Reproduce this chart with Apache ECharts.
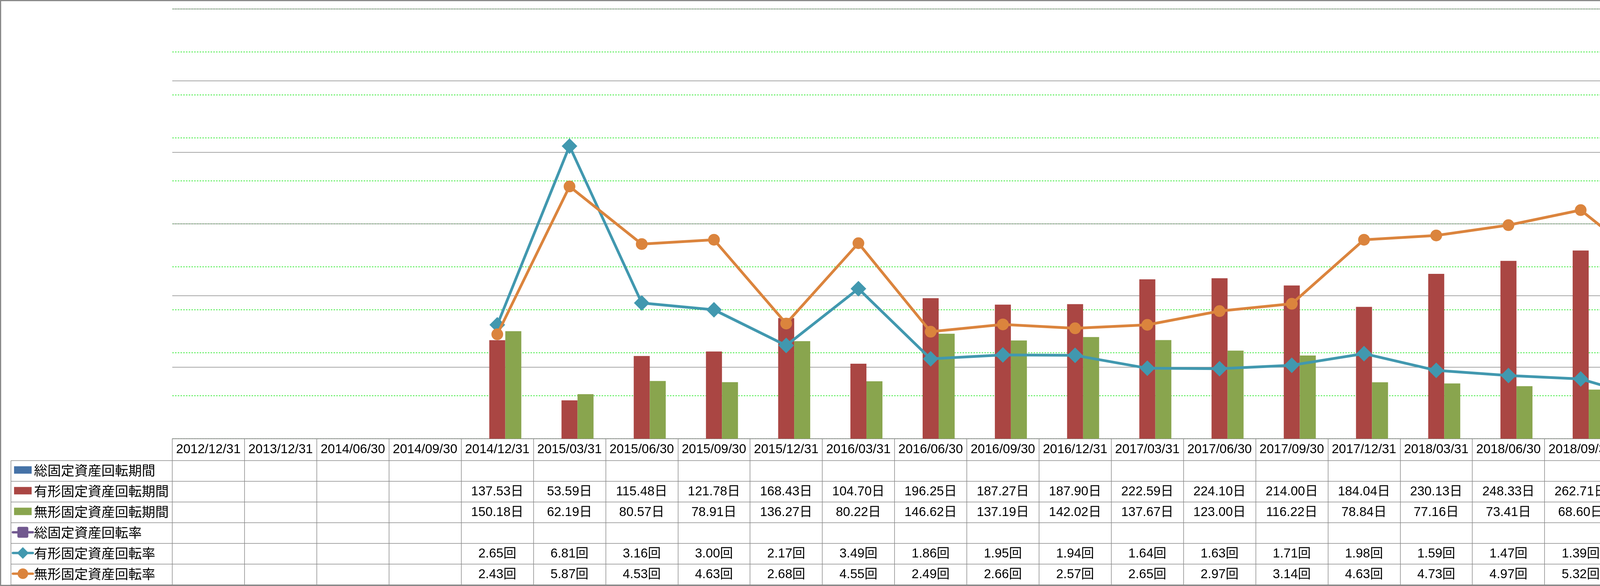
<!DOCTYPE html>
<html>
<head>
<meta charset="utf-8">
<script src="https://cdn.jsdelivr.net/npm/echarts@6/dist/echarts.min.js"></script>
<style>
html,body{margin:0;padding:0;background:#ffffff;}
#chart{width:6407px;height:1500px;}
</style>
</head>
<body>
<div id="chart"></div>
<script>
// ---------------- data ----------------
const categories = ['2012/12/31','2013/12/31','2014/06/30','2014/09/30','2014/12/31','2015/03/31','2015/06/30','2015/09/30','2015/12/31','2016/03/31','2016/06/30','2016/09/30','2016/12/31','2017/03/31','2017/06/30','2017/09/30','2017/12/31','2018/03/31','2018/06/30','2018/09/30','2018/12/31','2019/03/31','2019/06/30','2019/09/30','2019/12/31','2020/03/31','2020/06/30','2020/09/30','2020/12/31','2021/03/31'];

const seriesNames = ['総固定資産回転期間','有形固定資産回転期間','無形固定資産回転期間','総固定資産回転率','有形固定資産回転率','無形固定資産回転率'];

const totalPeriod = [null,null,null,null,null,null,null,null,null,null,null,null,null,null,null,null,null,null,null,null,null,null,null,null,null,null,null,null,null,null];
const tangiblePeriod = [null,null,null,null,137.53,53.59,115.48,121.78,168.43,104.70,196.25,187.27,187.90,222.59,224.10,214.00,184.04,230.13,248.33,262.71,405.23,474.40,529.85,569.80,524.69,553.06,533.76,429.91,409.27,314.32];
const intangiblePeriod = [null,null,null,null,150.18,62.19,80.57,78.91,136.27,80.22,146.62,137.19,142.02,137.67,123.00,116.22,78.84,77.16,73.41,68.60,91.77,94.19,96.55,90.51,80.41,78.24,72.62,60.12,52.67,42.26];
const totalRate = [null,null,null,null,null,null,null,null,null,null,null,null,null,null,null,null,null,null,null,null,null,null,null,null,null,null,null,null,null,null];
const tangibleRate = [null,null,null,null,2.65,6.81,3.16,3.00,2.17,3.49,1.86,1.95,1.94,1.64,1.63,1.71,1.98,1.59,1.47,1.39,0.90,0.77,0.69,0.64,0.70,0.66,0.68,0.85,0.89,1.16];
const intangibleRate = [null,null,null,null,2.43,5.87,4.53,4.63,2.68,4.55,2.49,2.66,2.57,2.65,2.97,3.14,4.63,4.73,4.97,5.32,3.98,3.88,3.78,4.03,4.54,4.67,5.03,6.07,6.93,8.64];

const dayTicks = [0,100,200,300,400,500,600];
const rateTicks = [0,1,2,3,4,5,6,7,8,9,10];

// ---------------- style / layout ----------------
const W = 6407, H = 1500;
const PL = 441, PR = 5988, PT = 23, PB = 1123;
const HEADER_H = 56, ROW_H = 53;
const LEG_COL_X = 28;
const GRAY = '#8a8a8a';
const GREEN = '#11e611';
const COLORS = ['#4572A7','#AA4643','#89A54E','#71588F','#4198AF','#DB843D'];
const TABLE_FONT = "'Liberation Sans','Noto Sans CJK JP',sans-serif";
const AXIS_FONT = "'DejaVu Sans','Noto Sans CJK JP',sans-serif";

const fmtDay = v => (v == null ? '' : v.toFixed(2) + '日');
const fmtRate = v => (v == null ? '' : v.toFixed(2) + '回');
const rowLabels = [
  totalPeriod.map(fmtDay), tangiblePeriod.map(fmtDay), intangiblePeriod.map(fmtDay),
  totalRate.map(fmtRate), tangibleRate.map(fmtRate), intangibleRate.map(fmtRate)
];
const rowTop = i => PB + HEADER_H + i * ROW_H;

// ---------------- axes (data table rows are extra category axes) ----------------
const baseX = {
  type: 'category', data: categories, gridIndex: 0, position: 'bottom', boundaryGap: true,
  axisLine: { show: true, onZero: false, lineStyle: { color: GRAY, width: 1.5 } },
  splitLine: { show: false }
};
const xAxes = [Object.assign({}, baseX, {
  offset: 0,
  axisTick: { show: true, interval: 0, length: HEADER_H, lineStyle: { color: GRAY, width: 1.5 } },
  axisLabel: { interval: 0, margin: HEADER_H / 2, verticalAlign: 'middle', fontFamily: TABLE_FONT, fontSize: 33, color: '#000' }
})];
rowLabels.forEach((labels, i) => {
  xAxes.push(Object.assign({}, baseX, {
    offset: HEADER_H + i * ROW_H,
    axisTick: { show: true, interval: 0, length: ROW_H, lineStyle: { color: GRAY, width: 1.5 } },
    axisLabel: { interval: 0, margin: ROW_H / 2, verticalAlign: 'middle', fontFamily: TABLE_FONT, fontSize: 33, color: '#000',
      formatter: (v, idx) => labels[idx] }
  }));
});

const yAxes = [
  {
    type: 'value', position: 'right', offset: 168,
    min: rateTicks[0], max: rateTicks[rateTicks.length - 1], interval: rateTicks[1] - rateTicks[0],
    axisLine: { show: true, onZero: false, lineStyle: { color: GREEN, width: 1.5, type: [4, 3] } },
    axisTick: { show: true, length: 12, lineStyle: { color: GREEN, width: 1.5, type: [4, 3] } },
    axisLabel: { margin: 33, formatter: v => v.toFixed(2) + '回', fontFamily: AXIS_FONT, fontSize: 29, color: '#000' },
    splitLine: { show: true, lineStyle: { color: GREEN, width: 1.5, type: [4, 3] } }
  },
  {
    type: 'value', position: 'right', offset: 0,
    min: dayTicks[0], max: dayTicks[dayTicks.length - 1], interval: dayTicks[1] - dayTicks[0],
    axisLine: { show: true, onZero: false, lineStyle: { color: GRAY, width: 1.5 } },
    axisTick: { show: false },
    axisLabel: { margin: 32, formatter: v => v.toFixed(2) + '日', fontFamily: AXIS_FONT, fontSize: 29, color: '#000' },
    splitLine: { show: true, lineStyle: { color: GRAY, width: 1.5 } }
  }
];

// ---------------- series ----------------
const barSeries = [totalPeriod, tangiblePeriod, intangiblePeriod].map((d, i) => ({
  name: seriesNames[i], type: 'bar', xAxisIndex: 0, yAxisIndex: 1, data: d,
  barWidth: 41, barGap: '0%', itemStyle: { color: COLORS[i] }, z: 2
}));
const lineSymbols = ['rect', 'diamond', 'circle'];
const lineSizes = [28, 40, 30];
const lineSeries = [totalRate, tangibleRate, intangibleRate].map((d, i) => ({
  name: seriesNames[i + 3], type: 'line', xAxisIndex: 0, yAxisIndex: 0, data: d,
  symbol: lineSymbols[i], symbolSize: lineSizes[i], showSymbol: true, showAllSymbol: true,
  lineStyle: { width: 7, color: COLORS[i + 3] }, itemStyle: { color: COLORS[i + 3] }, z: 3 + i
}));

// ---------------- table legend column & right legend ----------------
const graphics = [];
for (let i = 0; i <= 6; i++) {
  const y = rowTop(i);
  graphics.push({ type: 'line', silent: true, shape: { x1: LEG_COL_X, y1: y, x2: (i === 6 ? PR : PL), y2: y },
    style: { stroke: GRAY, lineWidth: 1.5 } });
}
graphics.push({ type: 'line', silent: true, shape: { x1: LEG_COL_X, y1: rowTop(0), x2: LEG_COL_X, y2: rowTop(6) },
  style: { stroke: GRAY, lineWidth: 1.5 } });

function legendItem(x, cy, i) {
  const c = COLORS[i];
  if (i < 3) {
    graphics.push({ type: 'rect', silent: true, shape: { x: x, y: cy - 10, width: 45, height: 19 }, style: { fill: c } });
  } else {
    graphics.push({ type: 'line', silent: true, shape: { x1: x - 3, y1: cy, x2: x + 48, y2: cy },
      style: { stroke: c, lineWidth: 6, lineCap: 'round' } });
    const mx = x + 22.5;
    if (i === 3) {
      graphics.push({ type: 'rect', silent: true, shape: { x: mx - 14, y: cy - 14, width: 28, height: 28, r: 4 }, style: { fill: c } });
    } else if (i === 4) {
      graphics.push({ type: 'polygon', silent: true, shape: { points: [[mx, cy - 15], [mx + 15, cy], [mx, cy + 15], [mx - 15, cy]] }, style: { fill: c } });
    } else {
      graphics.push({ type: 'circle', silent: true, shape: { cx: mx, cy: cy, r: 13.5 }, style: { fill: c } });
    }
  }
  graphics.push({ type: 'text', silent: true, x: x + 51, y: cy,
    style: { text: seriesNames[i], fill: '#000', font: "34.5px 'Noto Sans CJK JP'", verticalAlign: 'middle', align: 'left' } });
}
for (let i = 0; i < 6; i++) {
  const cy = rowTop(i) + ROW_H / 2 - 2;
  legendItem(36, cy, i);
  legendItem(5996, cy, i);
}
// outer chart border
graphics.push({ type: 'rect', silent: true, z: 100, shape: { x: 1.5, y: 1.5, width: W - 3, height: H - 3 },
  style: { fill: 'none', stroke: GRAY, lineWidth: 3 } });

// ---------------- chart ----------------
const chart = echarts.init(document.getElementById('chart'), null, { renderer: 'canvas', width: W, height: H });
chart.setOption({
  animation: false,
  backgroundColor: '#ffffff',
  grid: { left: PL, right: W - PR, top: PT, bottom: H - PB, containLabel: false, outerBoundsMode: 'none' },
  xAxis: xAxes,
  yAxis: yAxes,
  series: barSeries.concat(lineSeries),
  graphic: graphics
});
</script>
</body>
</html>
